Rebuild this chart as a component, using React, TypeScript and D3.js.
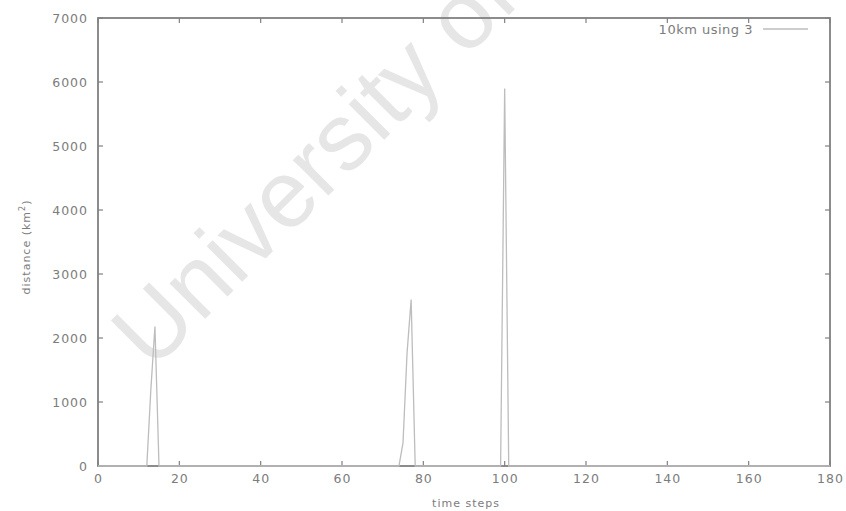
import React, { useEffect, useRef } from "react";
import * as d3 from "d3";

// time step, distance (km^2) for the "10km using 3" series
const timeSteps = [0, 12, 13, 14, 15, 74, 75, 76, 77, 78, 99, 100, 101, 180];
const distances = [0, 0, 1200, 2180, 0, 0, 360, 1770, 2600, 0, 0, 5900, 0, 0];

const xTicks = [0, 20, 40, 60, 80, 100, 120, 140, 160, 180];
const yTicks = [0, 1000, 2000, 3000, 4000, 5000, 6000, 7000];

const seriesName = "10km using 3";
const xTitle = "time steps";
const yTitle = "distance (km";
const watermark = "University of";

const W = 846;
const H = 511;
const margin = { left: 98, right: 16, top: 18, bottom: 45 };

export default function App() {
  const ref = useRef<SVGSVGElement | null>(null);

  useEffect(() => {
    const svg = d3.select(ref.current);
    svg.selectAll("*").remove();

    const x = d3.scaleLinear().domain([0, 180]).range([margin.left, W - margin.right]);
    const y = d3.scaleLinear().domain([0, 7000]).range([H - margin.bottom, margin.top]);

    const font = "'DejaVu Sans', Verdana, sans-serif";
    const wmFont = "'Liberation Sans', Arial, sans-serif";
    const axisColor = "#808080";
    const textColor = "#7c7c7c";
    const dataColor = "#bdbdbd";

    svg.append("rect").attr("width", W).attr("height", H).attr("fill", "#ffffff");

    // faint diagonal watermark behind the plot
    svg
      .append("text")
      .attr("transform", `translate(152,372) rotate(-45)`)
      .attr("font-family", wmFont)
      .attr("font-size", 95)
      .attr("fill", "#e6e6e6")
      .text(watermark);

    const x0 = x(0), x1 = x(180), y0 = y(0), y1 = y(7000);

    // plot border
    svg
      .append("rect")
      .attr("x", x0)
      .attr("y", y1)
      .attr("width", x1 - x0)
      .attr("height", y0 - y1)
      .attr("fill", "none")
      .attr("stroke", axisColor)
      .attr("stroke-width", 1.8);

    const tick = 5;
    const g = svg.append("g").attr("stroke", axisColor).attr("stroke-width", 1.2);
    xTicks.forEach((t) => {
      g.append("line").attr("x1", x(t)).attr("x2", x(t)).attr("y1", y0).attr("y2", y0 - tick);
      g.append("line").attr("x1", x(t)).attr("x2", x(t)).attr("y1", y1).attr("y2", y1 + tick);
    });
    yTicks.forEach((t) => {
      g.append("line").attr("x1", x0).attr("x2", x0 + tick).attr("y1", y(t)).attr("y2", y(t));
      g.append("line").attr("x1", x1).attr("x2", x1 - tick).attr("y1", y(t)).attr("y2", y(t));
    });

    const labels = svg
      .append("g")
      .attr("font-family", font)
      .attr("font-size", 12.5)
      .attr("letter-spacing", 1)
      .attr("fill", textColor);

    xTicks.forEach((t) => {
      labels
        .append("text")
        .attr("x", x(t) + 0.5)
        .attr("y", y0 + 17)
        .attr("text-anchor", "middle")
        .text(String(t));
    });
    yTicks.forEach((t) => {
      labels
        .append("text")
        .attr("x", x0 - 10)
        .attr("y", y(t) + 5)
        .attr("text-anchor", "end")
        .text(String(t));
    });

    labels
      .append("text")
      .attr("x", 466)
      .attr("y", 507)
      .attr("text-anchor", "middle")
      .attr("font-size", 11)
      .text(xTitle);

    const yt = labels
      .append("text")
      .attr("transform", `translate(30,247) rotate(-90)`)
      .attr("text-anchor", "middle")
      .attr("font-size", 11);
    yt.append("tspan").text(yTitle);
    yt.append("tspan").attr("font-size", 8).attr("dy", -5).text("2");
    yt.append("tspan").attr("dy", 5).text(")");

    // data line
    const line = d3
      .line<number>()
      .x((_, i) => x(timeSteps[i]))
      .y((d) => y(d));
    svg
      .append("path")
      .datum(distances)
      .attr("d", line)
      .attr("fill", "none")
      .attr("stroke", dataColor)
      .attr("stroke-width", 1.3);

    // legend
    svg
      .append("text")
      .attr("x", 753)
      .attr("y", 34)
      .attr("text-anchor", "end")
      .attr("font-family", font)
      .attr("font-size", 13)
      .attr("letter-spacing", 0.5)
      .attr("fill", textColor)
      .text(seriesName);
    svg
      .append("line")
      .attr("x1", 763)
      .attr("x2", 808)
      .attr("y1", 29)
      .attr("y2", 29)
      .attr("stroke", dataColor)
      .attr("stroke-width", 1.3);
  }, []);

  return (
    <svg
      ref={ref}
      width={W}
      height={H}
      style={{ display: "block", position: "absolute", left: 0, top: 0 }}
    />
  );
}
